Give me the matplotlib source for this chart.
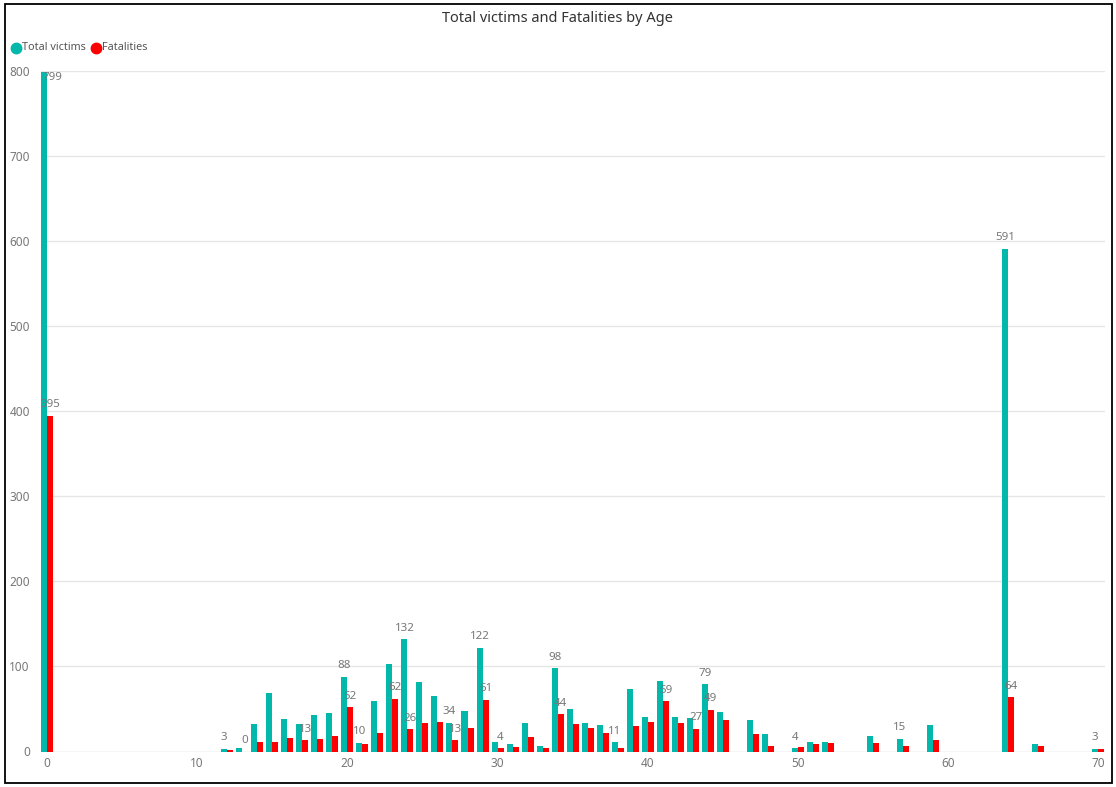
import matplotlib
matplotlib.use("Agg")
import matplotlib.pyplot as plt
from matplotlib.lines import Line2D
from matplotlib.patches import Rectangle
import numpy as np

plt.rcParams["font.family"] = ["Noto Sans", "DejaVu Sans"]

ages = [0, 12, 13, 14, 15, 16, 17, 18, 19, 20, 21, 22, 23, 24, 25, 26, 27, 28, 29,
        30, 31, 32, 33, 34, 35, 36, 37, 38, 39, 40, 41, 42, 43, 44, 45, 47, 48,
        50, 51, 52, 55, 57, 59, 64, 66, 70]
total_victims = [799, 3, 4, 32, 69, 38, 32, 43, 45, 88, 10, 59, 103, 132, 82, 65, 34, 48, 122,
                 11, 9, 33, 7, 98, 50, 33, 31, 11, 73, 40, 83, 40, 39, 79, 47, 37, 21,
                 4, 11, 11, 18, 15, 31, 591, 9, 3]
fatalities = [395, 2, 0, 11, 11, 16, 13, 15, 18, 52, 9, 22, 62, 26, 34, 35, 13, 28, 61,
              4, 5, 17, 4, 44, 32, 28, 22, 4, 30, 35, 59, 34, 27, 49, 37, 20, 7,
              5, 9, 10, 10, 6, 14, 64, 7, 3]
# ages whose value label is shown (as in the reference)
total_label_ages = [0, 12, 20, 21, 24, 27, 29, 34, 38, 44, 50, 57, 64, 70]
fatal_label_ages = [0, 13, 17, 20, 23, 24, 27, 29, 30, 34, 41, 43, 44, 64]
y_ticks = [0, 100, 200, 300, 400, 500, 600, 700, 800]
x_ticks = [0, 10, 20, 30, 40, 50, 60, 70]

TEAL = "#01B8AA"
RED = "#FF0000"
GREY = "#777777"

W, H = 1116, 787
fig = plt.figure(figsize=(W / 100, H / 100), dpi=100)
ax = fig.add_axes([41 / W, 1 - 751.5 / H, (1105 - 41) / W, (751.5 - 71) / H])

bw = 0.4
x = np.array(ages, dtype=float)
ax.bar(x - bw / 2, total_victims, width=bw, color=TEAL, zorder=3)
ax.bar(x + bw / 2, fatalities, width=bw, color=RED, zorder=3)

ax.set_xlim(-0.4, 70.45)
ax.set_ylim(0, 800)
ax.set_yticks(y_ticks)
ax.set_xticks(x_ticks)
ax.grid(axis="y", color="#e6e6e6", linewidth=1, zorder=0)
for s in ax.spines.values():
    s.set_visible(False)
ax.tick_params(length=0, colors=GREY, labelsize=8.5)
ax.tick_params(axis="y", pad=8)
ax.tick_params(axis="x", pad=4)
ax.axhline(0, color="#e6e6e6", linewidth=1, zorder=1)

lbl_font = dict(fontsize=8.3, color=GREY)


def put_label(xc, val):
    if val > 780:
        ax.annotate(str(val), (-0.4, 800), xytext=(1, -1), textcoords="offset points",
                    ha="left", va="top", zorder=5, **lbl_font)
    else:
        ax.annotate(str(val), (xc, val), xytext=(0, 4), textcoords="offset points",
                    ha="center", va="bottom", zorder=5, **lbl_font)


for a, t, f in zip(ages, total_victims, fatalities):
    if a in total_label_ages:
        put_label(a - bw / 2, t)
    if a in fatal_label_ages:
        put_label(a + bw / 2, f)

fig.text(0.5, 1 - 19 / H, "Total victims and Fatalities by Age", ha="center", va="center",
         fontsize=10.5, color="#333333")

# legend
ly = 1 - 48 / H
fig.add_artist(Line2D([16 / W], [ly], marker="o", markersize=7.5, color=TEAL, transform=fig.transFigure))
fig.text(22 / W, ly, "Total victims", ha="left", va="center", fontsize=7.8, color="#555555")
fig.add_artist(Line2D([96 / W], [ly], marker="o", markersize=7.5, color=RED, transform=fig.transFigure))
fig.text(102 / W, ly, "Fatalities", ha="left", va="center", fontsize=7.8, color="#555555")

# frame
fig.add_artist(Rectangle((4.5 / W, 1 - 783 / H), (1112 - 4.5) / W, (783 - 4) / H,
                         fill=False, edgecolor="black", linewidth=1.3, transform=fig.transFigure))

fig.savefig("out.png", dpi=100, facecolor="white")
